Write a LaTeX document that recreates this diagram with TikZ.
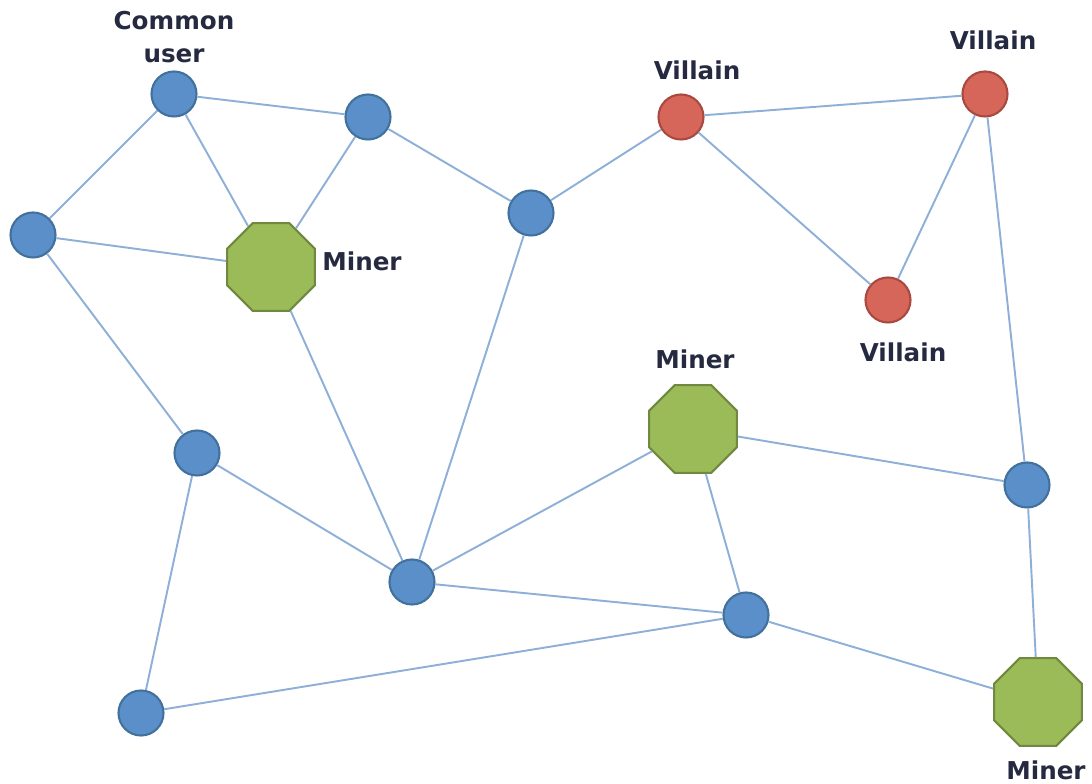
\documentclass[tikz,border=0pt]{standalone}
\usepackage{fontspec}
\setmainfont{DejaVu Sans}
\usetikzlibrary{shapes.geometric}
\definecolor{userblue}{HTML}{5B8FC9}
\definecolor{userline}{HTML}{41719C}
\definecolor{villred}{HTML}{D6655A}
\definecolor{villline}{HTML}{A9493F}
\definecolor{minergreen}{HTML}{9BBB59}
\definecolor{minerline}{HTML}{71893F}
\definecolor{linkblue}{HTML}{8EB0D8}
\definecolor{labelnavy}{HTML}{252A40}
\tikzset{
  user/.style={draw=userline, fill=userblue, circle, line width=1.2pt, minimum size=0.9cm, inner sep=0pt},
  villain/.style={draw=villline, fill=villred, circle, line width=1.2pt, minimum size=0.9cm, inner sep=0pt},
  miner/.style={draw=minerline, fill=minergreen, regular polygon, regular polygon sides=8, line width=1.2pt, minimum size=1.9cm, inner sep=0pt},
  tag/.style={text=labelnavy, font=\fontsize{14}{18.5}\selectfont\bfseries, align=center},
  link/.style={draw=linkblue, line width=1.1pt}
}
\begin{document}
\begin{tikzpicture}
  \useasboundingbox (0,0) rectangle (21.84,15.68);
  \node [user] (cu) at (3.48,13.8) {};
  \node [user] (b2) at (7.36,13.34) {};
  \node [user] (b3) at (0.66,10.98) {};
  \node [miner] (m1) at (5.42,10.34) {};
  \node [user] (b4) at (10.62,11.42) {};
  \node [villain] (v1) at (13.62,13.34) {};
  \node [villain] (v2) at (19.7,13.8) {};
  \node [villain] (v3) at (17.76,9.68) {};
  \node [miner] (m2) at (13.86,7.1) {};
  \node [user] (b5) at (3.94,6.62) {};
  \node [user] (b6) at (20.54,5.98) {};
  \node [user] (b7) at (8.24,4.04) {};
  \node [user] (b8) at (14.92,3.38) {};
  \node [user] (b9) at (2.82,1.42) {};
  \node [miner] (m3) at (20.76,1.64) {};
  \node [tag] (cutag) at (3.48,14.94) {Common\\user};
  \node [tag] (v1tag) at (13.94,14.28) {Villain};
  \node [tag] (v2tag) at (19.86,14.88) {Villain};
  \node [tag] (v3tag) at (18.06,8.64) {Villain};
  \node [tag] (m1tag) at (7.24,10.46) {Miner};
  \node [tag] (m2tag) at (13.9,8.5) {Miner};
  \node [tag] (m3tag) at (20.92,0.28) {Miner};
  \draw [link] (cu) -- (b2);
  \draw [link] (cu) -- (b3);
  \draw [link] (cu) -- (m1);
  \draw [link] (b2) -- (m1);
  \draw [link] (b2) -- (b4);
  \draw [link] (b3) -- (m1);
  \draw [link] (b3) -- (b5);
  \draw [link] (m1) -- (b7);
  \draw [link] (b4) -- (b7);
  \draw [link] (b4) -- (v1);
  \draw [link] (v1) -- (v2);
  \draw [link] (v1) -- (v3);
  \draw [link] (v2) -- (v3);
  \draw [link] (v2) -- (b6);
  \draw [link] (m2) -- (b7);
  \draw [link] (m2) -- (b6);
  \draw [link] (m2) -- (b8);
  \draw [link] (b5) -- (b7);
  \draw [link] (b5) -- (b9);
  \draw [link] (b7) -- (b8);
  \draw [link] (b8) -- (b9);
  \draw [link] (b8) -- (m3);
  \draw [link] (b6) -- (m3);
\end{tikzpicture}
\end{document}
